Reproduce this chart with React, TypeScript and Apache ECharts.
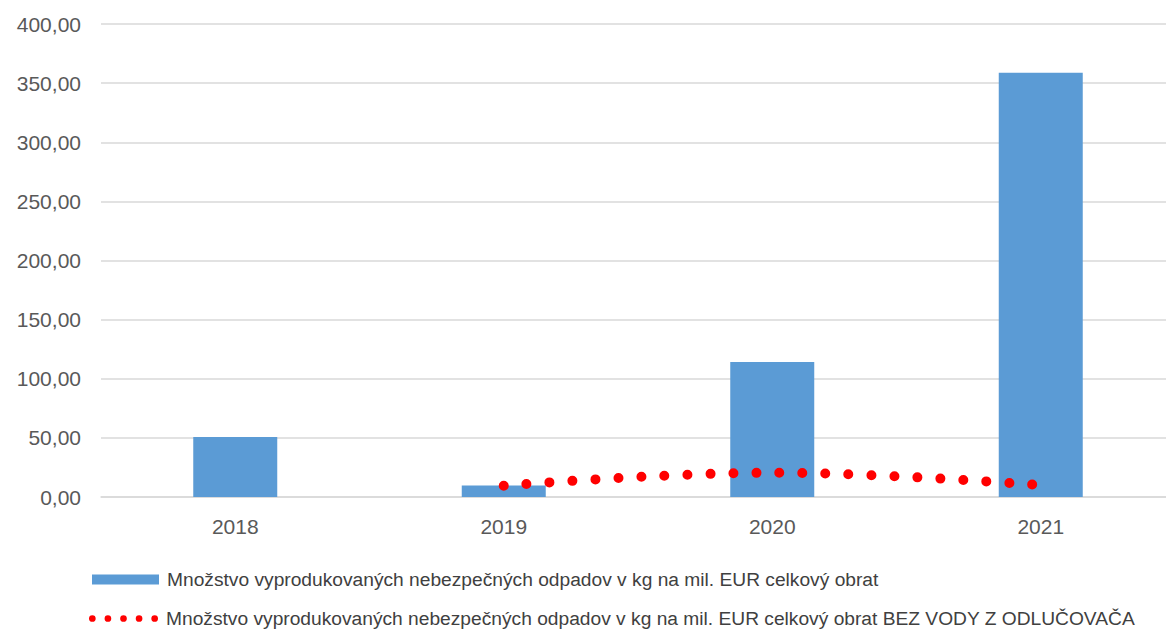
import React, { useEffect, useRef } from "react";
import * as echarts from "echarts";

const categories = ["2018", "2019", "2020", "2021"];
const barName = "Množstvo vyprodukovaných nebezpečných odpadov v kg na mil. EUR celkový obrat";
const lineName = "Množstvo vyprodukovaných nebezpečných odpadov v kg na mil. EUR celkový obrat BEZ VODY Z ODLUČOVAČA";
const barValues = [50.8, 9.8, 114.2, 358.8];
const lineValues: (number | null)[] = [null, 9.5, 20.5, 10.0];
const yMin = 0;
const yMax = 400;
const yStep = 50;

const dotsIcon =
  "path://M0,3a3,3 0 1,0 6,0a3,3 0 1,0 -6,0Z" +
  "M14,3a3,3 0 1,0 6,0a3,3 0 1,0 -6,0Z" +
  "M28,3a3,3 0 1,0 6,0a3,3 0 1,0 -6,0Z" +
  "M42,3a3,3 0 1,0 6,0a3,3 0 1,0 -6,0Z" +
  "M56,3a3,3 0 1,0 6,0a3,3 0 1,0 -6,0Z";

export default function App() {
  const ref = useRef<HTMLDivElement>(null);
  useEffect(() => {
    if (!ref.current) return;
    const chart = echarts.init(ref.current, undefined, { renderer: "svg" });
    const font = "'Liberation Sans', Arial, sans-serif";
    const legendText = { color: "#404040", fontSize: 19.2, fontFamily: font };
    chart.setOption({
      animation: false,
      backgroundColor: "#ffffff",
      grid: { left: 101, top: 24, width: 1074, height: 473, containLabel: false },
      xAxis: {
        type: "category",
        data: categories,
        axisLine: { show: true, lineStyle: { color: "#D9D9D9", width: 1.5 } },
        axisTick: { show: false },
        axisLabel: { color: "#595959", fontSize: 21, fontFamily: font, margin: 19 },
      },
      yAxis: {
        type: "value",
        min: yMin,
        max: yMax,
        interval: yStep,
        axisLine: { show: false },
        axisTick: { show: false },
        splitLine: { lineStyle: { color: "#D9D9D9", width: 1.5 } },
        axisLabel: {
          color: "#595959",
          fontSize: 21,
          fontFamily: font,
          margin: 20,
          formatter: (v: number) => v.toFixed(2).replace(".", ","),
        },
      },
      legend: [
        {
          left: 92,
          top: 570,
          padding: 0,
          itemWidth: 67,
          itemHeight: 10,
          itemGap: 0,
          textStyle: { ...legendText, padding: [0, 0, 0, 3] },
          data: [{ name: barName, icon: "rect" }],
        },
        {
          left: 89,
          top: 609,
          padding: 0,
          itemWidth: 69,
          itemHeight: 7,
          itemGap: 0,
          textStyle: { ...legendText, padding: [0, 0, 0, 3] },
          data: [{ name: lineName, icon: dotsIcon, itemStyle: { color: "#FF0000" } }],
        },
      ],
      series: [
        {
          name: barName,
          type: "bar",
          data: barValues,
          barWidth: 84,
          itemStyle: { color: "#5B9BD5" },
        },
        {
          name: lineName,
          type: "line",
          data: lineValues,
          smooth: 0.4,
          showSymbol: false,
          symbol: "none",
          lineStyle: { color: "#FF0000", width: 10, type: [0, 23], cap: "round" },
          itemStyle: { color: "#FF0000" },
        },
      ],
    });
    return () => chart.dispose();
  }, []);
  return (
    <div style={{ position: "absolute", left: 0, top: 0, width: 1166, height: 631, overflow: "hidden" }}>
      <div ref={ref} style={{ width: 1190, height: 631 }} />
    </div>
  );
}
